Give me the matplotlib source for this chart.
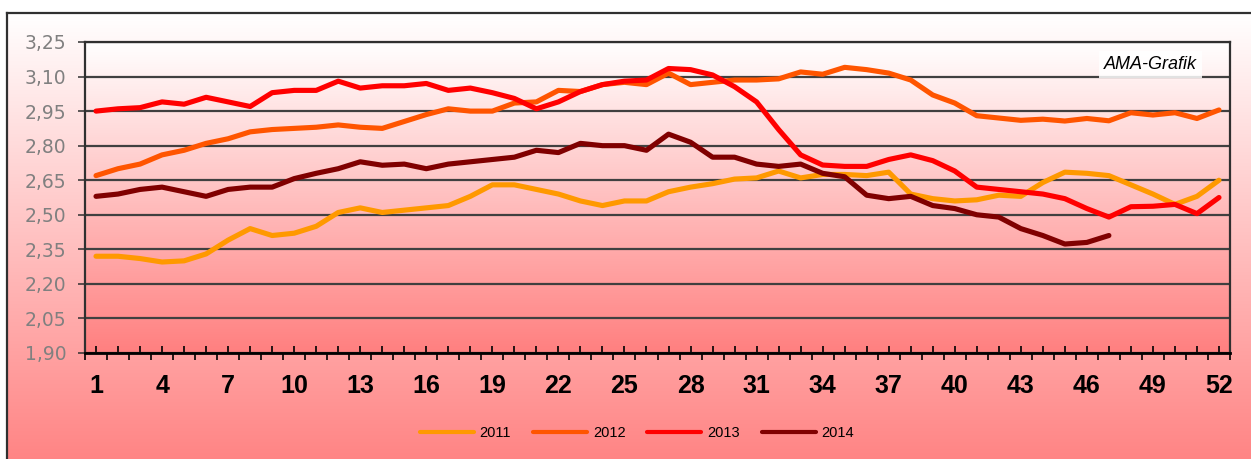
import numpy as np
import matplotlib
matplotlib.use("Agg")
import matplotlib.pyplot as plt
from matplotlib.ticker import FixedLocator, FixedFormatter

# ---------------- data ----------------
weeks = list(range(1, 53))
series_names = ["2011", "2012", "2013", "2014"]

y2011 = [2.32, 2.32, 2.31, 2.295, 2.30, 2.33, 2.39, 2.44, 2.41, 2.42,
         2.45, 2.51, 2.53, 2.51, 2.52, 2.53, 2.54, 2.58, 2.63, 2.63,
         2.61, 2.59, 2.56, 2.54, 2.56, 2.56, 2.60, 2.62, 2.635, 2.655,
         2.66, 2.69, 2.66, 2.675, 2.675, 2.67, 2.685, 2.59, 2.57, 2.56,
         2.565, 2.585, 2.58, 2.64, 2.685, 2.68, 2.67, 2.63, 2.59, 2.545,
         2.58, 2.65]
y2012 = [2.67, 2.70, 2.72, 2.76, 2.78, 2.81, 2.83, 2.86, 2.87, 2.875,
         2.88, 2.89, 2.88, 2.875, 2.905, 2.935, 2.96, 2.95, 2.95, 2.985,
         2.99, 3.04, 3.035, 3.065, 3.075, 3.065, 3.115, 3.065, 3.075, 3.085,
         3.085, 3.09, 3.12, 3.11, 3.14, 3.13, 3.115, 3.085, 3.02, 2.985,
         2.93, 2.92, 2.91, 2.915, 2.907, 2.918, 2.908, 2.943, 2.933, 2.943,
         2.918, 2.955]
y2013 = [2.95, 2.96, 2.965, 2.99, 2.98, 3.01, 2.99, 2.97, 3.03, 3.04,
         3.04, 3.08, 3.05, 3.06, 3.06, 3.07, 3.04, 3.05, 3.03, 3.005,
         2.96, 2.99, 3.035, 3.065, 3.08, 3.085, 3.135, 3.13, 3.107, 3.056,
         2.99, 2.87, 2.76, 2.716, 2.71, 2.71, 2.74, 2.76, 2.735, 2.69,
         2.62, 2.61, 2.60, 2.59, 2.57, 2.527, 2.49, 2.535, 2.537, 2.545,
         2.505, 2.575]
y2014 = [2.58, 2.59, 2.61, 2.62, 2.60, 2.58, 2.61, 2.62, 2.62, 2.657,
         2.68, 2.70, 2.73, 2.715, 2.72, 2.70, 2.72, 2.73, 2.74, 2.75,
         2.78, 2.77, 2.81, 2.80, 2.80, 2.78, 2.85, 2.815, 2.75, 2.75,
         2.72, 2.71, 2.72, 2.68, 2.665, 2.585, 2.57, 2.58, 2.54, 2.527,
         2.50, 2.49, 2.44, 2.41, 2.373, 2.38, 2.41]

y_ticks = [1.90, 2.05, 2.20, 2.35, 2.50, 2.65, 2.80, 2.95, 3.10, 3.25]
y_tick_labels = ["1,90", "2,05", "2,20", "2,35", "2,50", "2,65", "2,80", "2,95", "3,10", "3,25"]
x_label_weeks = list(range(1, 53, 3))

colors = ["#FF9900", "#FF5500", "#FF0000", "#800000"]

# ---------------- figure ----------------
W, H = 1251, 459
fig = plt.figure(figsize=(W / 100, H / 100), dpi=100)
fig.patch.set_facecolor("white")

def vgrad(top_rgb, bot_rgb, n=256):
    t = np.linspace(0, 1, n)[:, None, None]
    top = np.array(top_rgb)[None, None, :]
    bot = np.array(bot_rgb)[None, None, :]
    return top * (1 - t) + bot * t

# chart-area background (gradient) with frame
bx0, by_top = 7, 13
bg = fig.add_axes([bx0 / W, 0, 1 - bx0 / W, 1 - by_top / H], zorder=-10)
bg.imshow(vgrad((1, 1, 1), (1, 0.52, 0.52)), aspect="auto", extent=[0, 1, 0, 1],
          interpolation="bilinear")
bg.set_xlim(0, 1)
bg.set_ylim(0, 1)
bg.set_xticks([])
bg.set_yticks([])
for s in ["right", "bottom"]:
    bg.spines[s].set_visible(False)
for s in ["left", "top"]:
    bg.spines[s].set_color("#303030")
    bg.spines[s].set_linewidth(1.6)

# plot area
px0, px1, py0, py1 = 85, 1230, 42, 353
ax = fig.add_axes([px0 / W, 1 - py1 / H, (px1 - px0) / W, (py1 - py0) / H])
ax.patch.set_visible(False)
ax.imshow(vgrad((1, 1, 1), (1, 0.5, 0.5)), aspect="auto", extent=[0, 1, 0, 1],
          transform=ax.transAxes, zorder=0, interpolation="bilinear")

lines = []
for name, vals, c in zip(series_names, [y2011, y2012, y2013, y2014], colors):
    ln, = ax.plot(weeks[:len(vals)], vals, color=c, lw=3.7, label=name,
                  solid_joinstyle="round", solid_capstyle="round", zorder=3)
    lines.append(ln)

ax.set_xlim(0.5, 52.5)
ax.set_ylim(1.90, 3.25)

# y axis
ax.set_yticks(y_ticks)
ax.set_yticklabels(y_tick_labels)
ax.tick_params(axis="y", direction="out", length=5, width=1.1, color="#303030",
               pad=8.5, labelsize=13.5, labelcolor="#808080")
for t in ax.get_yticklabels():
    t.set_fontfamily("DejaVu Sans")
ax.yaxis.grid(True, color="#404040", linewidth=1.6, zorder=1)
ax.set_axisbelow(True)

# x axis: inward ticks at categories, outward ticks between categories
ax.xaxis.set_major_locator(FixedLocator(weeks))
ax.xaxis.set_major_formatter(FixedFormatter([str(w) if w in x_label_weeks else "" for w in weeks]))
ax.xaxis.set_minor_locator(FixedLocator([w + 0.5 for w in [0] + weeks]))
ax.tick_params(axis="x", which="major", direction="in", length=5, width=1.2,
               color="black", pad=15, labelsize=18)
ax.tick_params(axis="x", which="minor", direction="out", length=5, width=1.2, color="black")
for t in ax.get_xticklabels():
    t.set_fontfamily("Liberation Sans")
    t.set_fontweight("bold")

ax.spines["bottom"].set_color("black")
ax.spines["bottom"].set_linewidth(2.0)
for s in ["left", "right", "top"]:
    ax.spines[s].set_color("#303030")
    ax.spines[s].set_linewidth(1.6)

# AMA-Grafik label
ax.text(1150.5 / W, 1 - 64.5 / H, "AMA-Grafik", transform=fig.transFigure,
        ha="center", va="center", fontsize=13, style="italic",
        family="Liberation Sans", color="black", zorder=5,
        bbox=dict(boxstyle="square,pad=0.3", facecolor="white", edgecolor="none", alpha=0.85))

# legend
leg = fig.legend(handles=lines, labels=series_names, loc="center",
                 bbox_to_anchor=(637 / W, 1 - 432.7 / H), ncol=4, frameon=False,
                 prop={"family": "Liberation Sans", "size": 10.5},
                 handlelength=3.7, handletextpad=0.4, columnspacing=1.5)
for l in leg.get_lines():
    l.set_linewidth(3.0)

fig.savefig("out.png", dpi=100)
